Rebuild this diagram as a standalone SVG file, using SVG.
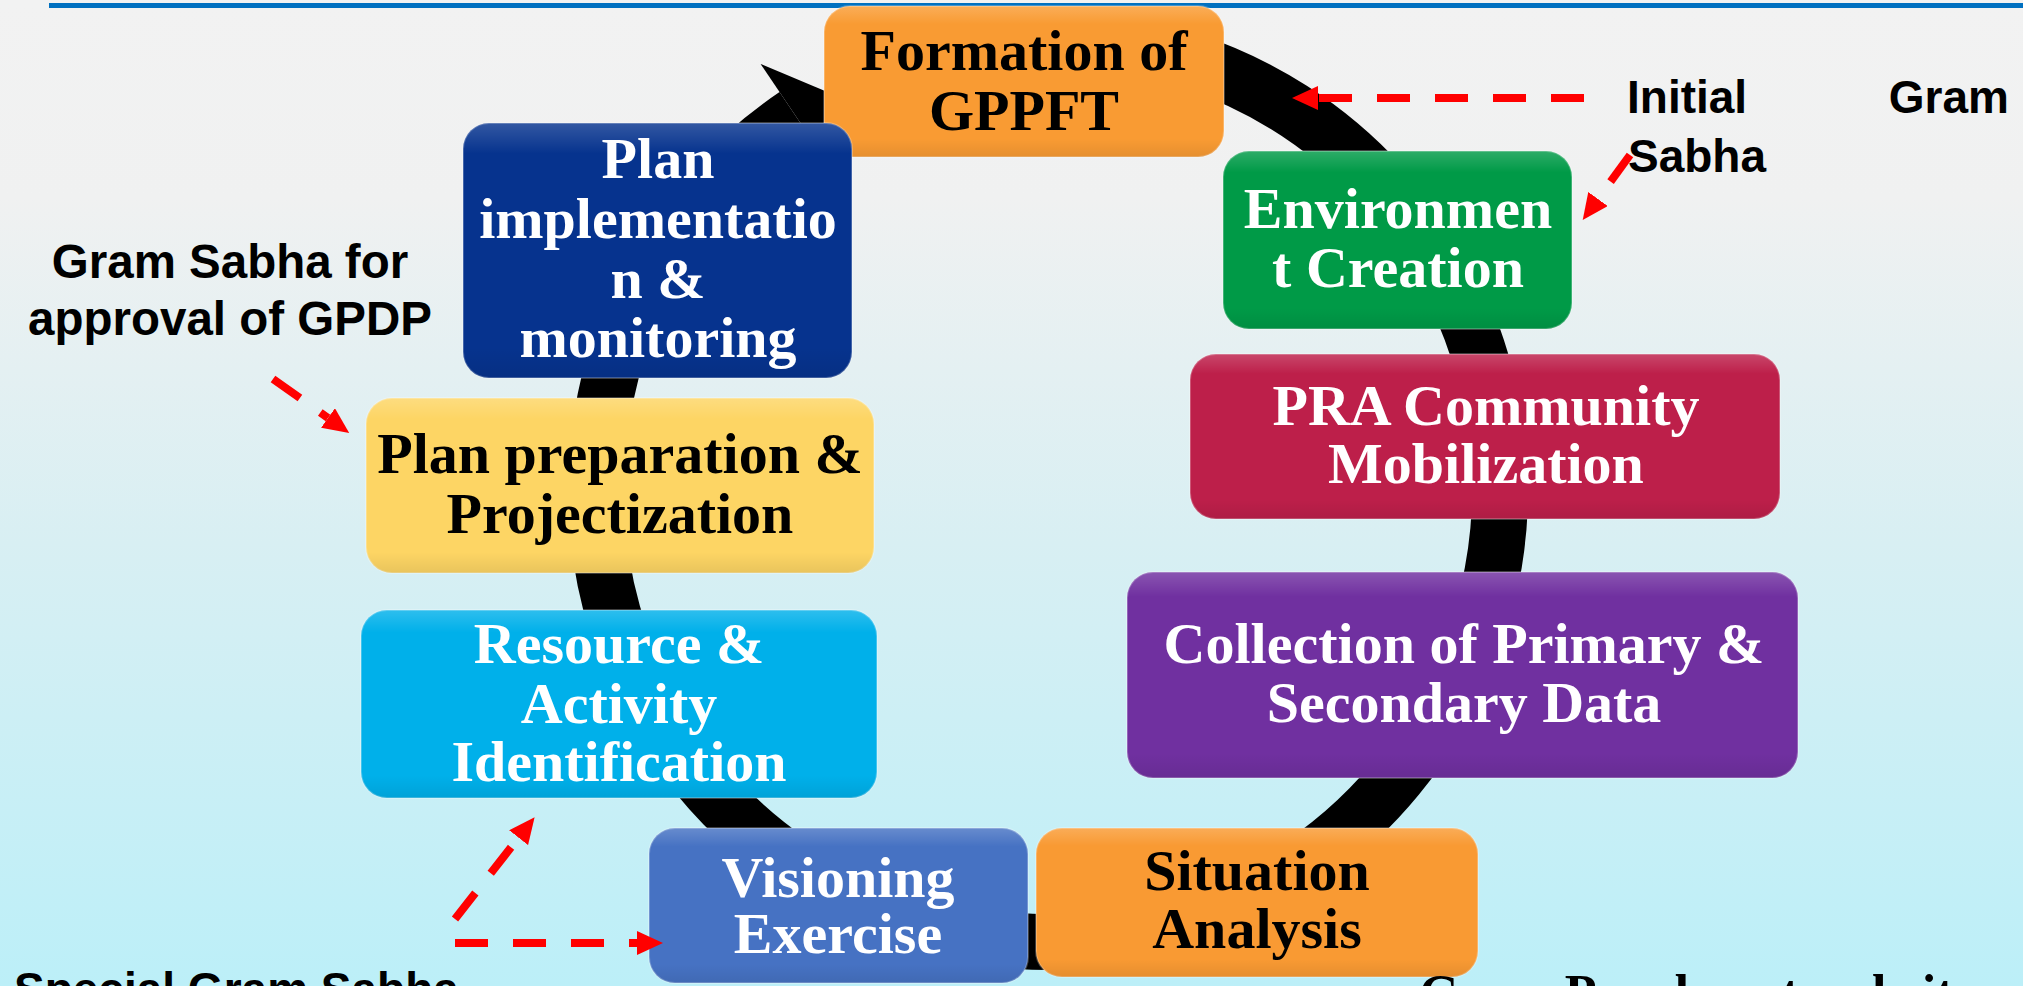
<svg xmlns="http://www.w3.org/2000/svg" width="2023" height="986" viewBox="0 0 2023 986">
<defs>
<linearGradient id="bg" x1="0" y1="0" x2="0" y2="1">
<stop offset="0" stop-color="#F2F2F2"/>
<stop offset="0.2" stop-color="#F0F1F1"/>
<stop offset="0.55" stop-color="#D8EFF3"/>
<stop offset="1" stop-color="#BCEFF8"/>
</linearGradient>
<linearGradient id="gloss" x1="0" y1="0" x2="0" y2="1">
<stop offset="0" stop-color="#FFFFFF" stop-opacity="0.18"/>
<stop offset="0.12" stop-color="#FFFFFF" stop-opacity="0"/>
<stop offset="0.88" stop-color="#000000" stop-opacity="0"/>
<stop offset="1" stop-color="#000000" stop-opacity="0.08"/>
</linearGradient>
<marker id="redHead" markerUnits="userSpaceOnUse" markerWidth="26" markerHeight="24" refX="0" refY="12" orient="auto">
<path d="M0,0 L26,12 L0,24 z" fill="#FF0000"/>
</marker>
<style>
.box { stroke: #FFFFFF; stroke-opacity: 0.25; stroke-width: 2; }
.gl { fill: url(#gloss); }
.nt { font-family: "Liberation Serif", "Times New Roman", serif; font-weight: bold; font-size: 58px; text-anchor: middle; }
.w { fill: #FFFFFF; }
.k { fill: #000000; }
.lbl { font-family: "Liberation Sans", Arial, sans-serif; font-weight: bold; font-size: 46px; fill: #000000; }
.lbl2 { font-family: "Liberation Sans", Arial, sans-serif; font-weight: bold; font-size: 47.5px; fill: #000000; text-anchor: middle; }
.btm { font-family: "Liberation Serif", "Times New Roman", serif; font-weight: bold; font-size: 52px; fill: #000000; }
.dash { fill: none; stroke: #FF0000; stroke-width: 8; stroke-dasharray: 33 25; marker-end: url(#redHead); }
.ring { fill: none; stroke: #000000; stroke-width: 56; stroke-linecap: butt; }
</style>
</defs>

<rect x="0" y="0" width="2023" height="986" fill="url(#bg)"/>
<rect x="49" y="3" width="1974" height="5" fill="#0070C0"/>

<g id="cycle-connector">
<path class="ring" d="M985.1,42.4 A452,452 0 1 1 795.2,115.3"/>
<polygon points="760.6,63.9 831,93.5 829.9,166.7" fill="#000000"/>
</g>

<g id="node-formation">
<rect class="box" x="824" y="6" width="400" height="151" rx="26" fill="#F99B33"/>
<rect class="gl" x="824" y="6" width="400" height="151" rx="26"/>
<text class="nt k" x="1024" y="70">Formation of</text>
<text class="nt k" x="1024" y="130">GPPFT</text>
</g>

<g id="node-plan-implementation">
<rect class="box" x="463" y="123" width="389" height="255" rx="26" fill="#06338E"/>
<rect class="gl" x="463" y="123" width="389" height="255" rx="26"/>
<text class="nt w" x="658" y="178">Plan</text>
<text class="nt w" x="658" y="238">implementatio</text>
<text class="nt w" x="658" y="298">n &amp;</text>
<text class="nt w" x="658" y="357">monitoring</text>
</g>

<g id="node-plan-preparation">
<rect class="box" x="366" y="398" width="508" height="175" rx="26" fill="#FDD564"/>
<rect class="gl" x="366" y="398" width="508" height="175" rx="26"/>
<text class="nt k" x="620" y="473">Plan preparation &amp;</text>
<text class="nt k" x="620" y="533">Projectization</text>
</g>

<g id="node-resource">
<rect class="box" x="361" y="610" width="516" height="188" rx="26" fill="#00B0EA"/>
<rect class="gl" x="361" y="610" width="516" height="188" rx="26"/>
<text class="nt w" x="619" y="663">Resource &amp;</text>
<text class="nt w" x="619" y="723">Activity</text>
<text class="nt w" x="619" y="781">Identification</text>
</g>

<g id="node-visioning">
<rect class="box" x="649" y="828" width="379" height="155" rx="26" fill="#4672C3"/>
<rect class="gl" x="649" y="828" width="379" height="155" rx="26"/>
<text class="nt w" x="838" y="897">Visioning</text>
<text class="nt w" x="838" y="953">Exercise</text>
</g>

<g id="node-situation">
<rect class="box" x="1036" y="828" width="442" height="149" rx="26" fill="#F99A33"/>
<rect class="gl" x="1036" y="828" width="442" height="149" rx="26"/>
<text class="nt k" x="1257" y="890">Situation</text>
<text class="nt k" x="1257" y="948">Analysis</text>
</g>

<g id="node-collection">
<rect class="box" x="1127" y="572" width="671" height="206" rx="26" fill="#7030A0"/>
<rect class="gl" x="1127" y="572" width="671" height="206" rx="26"/>
<text class="nt w" x="1464" y="663">Collection of Primary &amp;</text>
<text class="nt w" x="1464" y="722">Secondary Data</text>
</g>

<g id="node-pra">
<rect class="box" x="1190" y="354" width="590" height="165" rx="26" fill="#BD1F4A"/>
<rect class="gl" x="1190" y="354" width="590" height="165" rx="26"/>
<text class="nt w" x="1486" y="425">PRA Community</text>
<text class="nt w" x="1486" y="483">Mobilization</text>
</g>

<g id="node-environment">
<rect class="box" x="1223" y="151" width="349" height="178" rx="26" fill="#009A47"/>
<rect class="gl" x="1223" y="151" width="349" height="178" rx="26"/>
<text class="nt w" x="1398" y="228">Environmen</text>
<text class="nt w" x="1398" y="287">t Creation</text>
</g>

<g id="connectors">
<path class="dash" d="M1584,98 L1318,98"/>
<path class="dash" d="M1630,155 L1598,199"/>
<path class="dash" d="M273,379 L328,418"/>
<path class="dash" d="M455,943 L637,943"/>
<path class="dash" d="M455,919 L518.6,837.7"/>
</g>

<g id="labels">
<text class="lbl" x="1627" y="113">Initial</text>
<text class="lbl" x="2009" y="113" style="text-anchor:end">Gram</text>
<text class="lbl" x="1628" y="172">Sabha</text>
<text class="lbl2" x="230" y="278">Gram Sabha for</text>
<text class="lbl2" x="230" y="335">approval of GPDP</text>
<text class="lbl" x="14" y="1005">Special Gram Sabha</text>
<text class="btm" x="1419" y="1011">Gram Panchayat website</text>
</g>
</svg>
